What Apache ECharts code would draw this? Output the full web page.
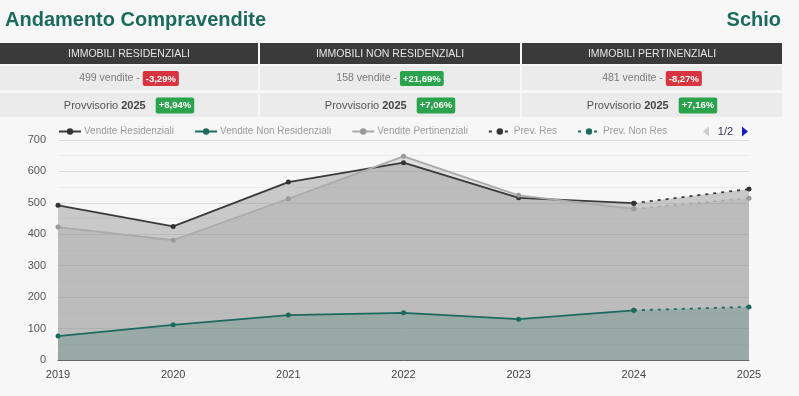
<!DOCTYPE html>
<html>
<head>
<meta charset="utf-8">
<script src="https://cdn.jsdelivr.net/npm/echarts@6/dist/echarts.min.js"></script>
<style>
html,body{margin:0;padding:0;background:#f7f7f7;}
#c{width:799px;height:396px;}
</style>
</head>
<body>
<div id="c"></div>
<script>
const years = ['2019','2020','2021','2022','2023','2024','2025'];
const residenziali = [492, 425, 566, 628, 516, 499, null];
const nonResidenziali = [76, 112, 143, 150, 130, 158, null];
const pertinenziali = [423, 381, 513, 648, 524, 481, null];
const prevRes = [null, null, null, null, null, 499, 544];
const prevNonRes = [null, null, null, null, null, 158, 169];
const prevPert = [null, null, null, null, null, 481, 515];

const headers = ['IMMOBILI RESIDENZIALI', 'IMMOBILI NON RESIDENZIALI', 'IMMOBILI PERTINENZIALI'];
const vendite = [499, 158, 481];
const variazioni = ['-3,29%', '+21,69%', '-8,27%'];
const provvisorio = ['+8,94%', '+7,06%', '+7,16%'];
const provYear = '2025';
const titleText = 'Andamento Compravendite';
const cityText = 'Schio';

const FONT = '"Liberation Sans", Arial, sans-serif';
const colX = [0, 260, 522];
const colW = [258, 260, 260];

const graphic = [];
headers.forEach((h, i) => {
  const cx = colX[i] + colW[i] / 2;
  graphic.push({type:'rect', shape:{x:colX[i], y:43, width:colW[i], height:21}, style:{fill:'#3a3a3a'}, silent:true});
  graphic.push({type:'rect', shape:{x:colX[i], y:66, width:colW[i], height:24}, style:{fill:'#ebebeb'}, silent:true});
  graphic.push({type:'rect', shape:{x:colX[i], y:93, width:colW[i], height:24}, style:{fill:'#ebebeb'}, silent:true});
  graphic.push({type:'text', x:cx, y:54, style:{text:h, fill:'#e6e6e6', font:'10.5px ' + FONT, align:'center', verticalAlign:'middle'}, silent:true});
  const neg = variazioni[i].charAt(0) === '-';
  graphic.push({type:'text', x:cx, y:78.5, style:{
    text:'{a|' + vendite[i] + ' vendite - }{b|' + variazioni[i] + '}',
    align:'center', verticalAlign:'middle',
    rich:{
      a:{fill:'#7a7a7a', font:'10.5px ' + FONT},
      b:{fill:'#ffffff', font:'bold 9.5px ' + FONT, backgroundColor: neg ? '#d8343f' : '#2ba24c', padding:[3,3,2,3], borderRadius:2}
    }}, silent:true});
  graphic.push({type:'text', x:cx, y:105.5, style:{
    text:'{a|Provvisorio }{y|' + provYear + '}{s| }{g|' + provvisorio[i] + '}',
    align:'center', verticalAlign:'middle',
    rich:{
      a:{fill:'#555555', font:'11px ' + FONT},
      y:{fill:'#444444', font:'bold 11px ' + FONT},
      s:{font:'11px ' + FONT, width:10},
      g:{fill:'#ffffff', font:'bold 9.5px ' + FONT, backgroundColor:'#2ba24c', padding:[3,3,3,3], borderRadius:2}
    }}, silent:true});
});

const lineBase = (name, data, lineColor, symColor, areaColor, areaOpacity, dotted) => ({
  name, type:'line', data,
  symbol:'circle', symbolSize:5,
  connectNulls:false,
  lineStyle:{color:lineColor, width:1.8, type: dotted ? [3,5] : 'solid'},
  itemStyle:{color:symColor},
  areaStyle:{color:areaColor, opacity:areaOpacity},
  emphasis:{disabled:true}
});

const chart = echarts.init(document.getElementById('c'), null, {renderer:'canvas'});
chart.setOption({
  animation:false,
  backgroundColor:'#f7f7f7',
  textStyle:{fontFamily:FONT},
  title:[
    {text:titleText, left:0, top:5, textStyle:{color:'#1b6b5b', fontSize:20, fontWeight:'bold', fontFamily:FONT}},
    {text:cityText, right:13, top:5, textStyle:{color:'#1b6b5b', fontSize:20, fontWeight:'bold', fontFamily:FONT}}
  ],
  graphic,
  legend:{
    type:'scroll', orient:'horizontal', left:53, top:121, width:690,
    itemWidth:22, itemHeight:8, itemGap:20,
    textStyle:{color:'#9a9a9a', fontSize:10, fontFamily:FONT, padding:[0,0,0,-2]},
    pageIconColor:'#1a1acc', pageIconInactiveColor:'#cccccc', pageIconSize:10,
    pageButtonItemGap:4,
    pageTextStyle:{color:'#333366', fontSize:11},
    data:['Vendite Residenziali','Vendite Non Residenziali','Vendite Pertinenziali','Prev. Res','Prev. Non Res','Prev. Pert']
  },
  grid:{left:58, right:50, top:140, bottom:36},
  xAxis:{
    type:'category', data:years, boundaryGap:false,
    axisLine:{lineStyle:{color:'#666', width:1}},
    axisTick:{show:false},
    axisLabel:{color:'#444', fontSize:11, margin:9}
  },
  yAxis:{
    type:'value', min:0, max:700, interval:100,
    axisLine:{show:false}, axisTick:{show:false},
    axisLabel:{color:'#555', fontSize:11, margin:12},
    splitLine:{lineStyle:{color:'#dcdcdc'}},
    minorTick:{show:false, splitNumber:2},
    minorSplitLine:{show:true, lineStyle:{color:'#ececec'}}
  },
  series:[
    lineBase('Vendite Residenziali', residenziali, '#3a3a3a', '#333333', '#888888', 0.41, false),
    lineBase('Vendite Non Residenziali', nonResidenziali, '#1d6b5e', '#1d6b5e', '#1d6b5e', 0.28, false),
    lineBase('Vendite Pertinenziali', pertinenziali, '#aaaaaa', '#9a9a9a', '#999999', 0.25, false),
    lineBase('Prev. Res', prevRes, '#3a3a3a', '#333333', '#888888', 0.41, true),
    lineBase('Prev. Non Res', prevNonRes, '#1d6b5e', '#1d6b5e', '#1d6b5e', 0.28, true),
    lineBase('Prev. Pert', prevPert, '#aaaaaa', '#9a9a9a', '#999999', 0.25, true)
  ]
});
</script>
</body>
</html>
